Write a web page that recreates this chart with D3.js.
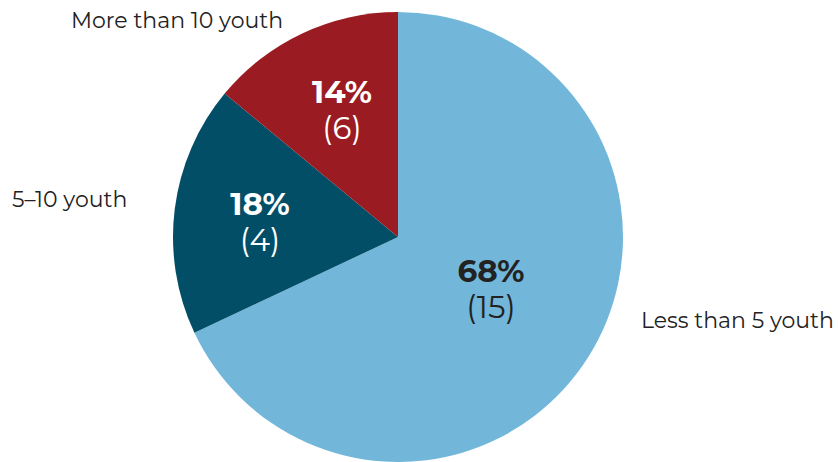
<!DOCTYPE html>
<html>
<head>
<meta charset="utf-8">
<script src="https://cdn.jsdelivr.net/npm/d3@7"></script>
<style>
  html, body { margin: 0; padding: 0; background: #fff; }
  svg { display: block; }
  text { font-family: "Montserrat", "Open Sans", "Noto Sans", sans-serif; }
</style>
</head>
<body>
<svg id="chart" width="838" height="462"></svg>
<script>
// Number of youth served per program
const categories = ["Less than 5 youth", "5–10 youth", "More than 10 youth"];
const percents = [68, 18, 14];
const counts = [15, 4, 6];
const colors = ["#72B7DA", "#024E67", "#9A1B21"];
const valueTextColors = ["#222222", "#ffffff", "#ffffff"];

const width = 838, height = 462;
const cx = 398, cy = 237, R = 225;

// Label placement, offsets from the pie centre
const innerLayout = [
  { x: 93, y: 63 },
  { x: -138, y: -4 },
  { x: -56, y: -116 }
];
const outerLayout = [
  { x: 243, y: 91, anchor: "start" },
  { x: -386, y: -30, anchor: "start" },
  { x: -327, y: -209, anchor: "start" }
];

const data = categories.map((c, i) => ({ category: c, pct: percents[i], count: counts[i], i }));

const svg = d3.select("#chart");
const g = svg.append("g").attr("transform", `translate(${cx},${cy})`);

const pie = d3.pie().sort(null).value(d => d.pct);
const arc = d3.arc().innerRadius(0).outerRadius(R);
const arcs = pie(data);

g.selectAll("path.slice")
  .data(arcs)
  .join("path")
  .attr("class", "slice")
  .attr("d", arc)
  .attr("fill", d => colors[d.data.i]);

// Value labels inside slices
const vals = g.selectAll("g.val")
  .data(arcs)
  .join("g")
  .attr("class", "val")
  .attr("transform", d => `translate(${innerLayout[d.data.i].x},${innerLayout[d.data.i].y})`);

vals.append("text")
  .attr("text-anchor", "middle")
  .attr("y", -18)
  .attr("font-size", 31)
  .attr("font-weight", 700)
  .attr("fill", d => valueTextColors[d.data.i])
  .text(d => d.data.pct + "%");

vals.append("text")
  .attr("text-anchor", "middle")
  .attr("y", 18)
  .attr("font-size", 31)
  .attr("fill", d => valueTextColors[d.data.i])
  .text(d => "(" + d.data.count + ")");

// Category labels outside the pie
g.selectAll("text.cat")
  .data(arcs)
  .join("text")
  .attr("class", "cat")
  .attr("font-size", 22)
  .attr("fill", "#222")
  .attr("text-anchor", d => outerLayout[d.data.i].anchor)
  .attr("x", d => outerLayout[d.data.i].x)
  .attr("y", d => outerLayout[d.data.i].y)
  .text(d => d.data.category);
</script>
</body>
</html>
